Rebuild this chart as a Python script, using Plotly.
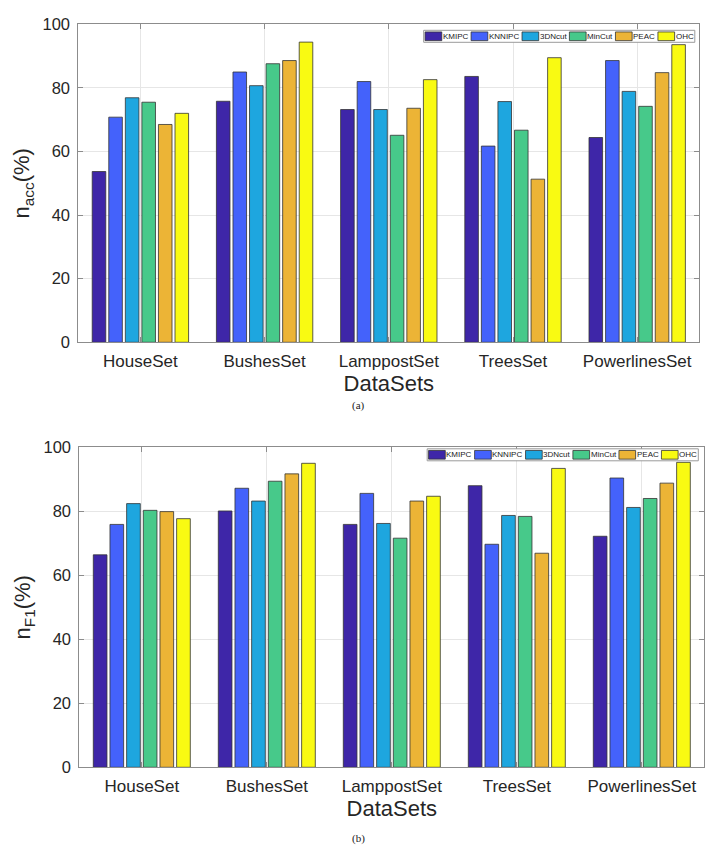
import plotly.graph_objects as go

# ---------------- data ----------------
categories = ["HouseSet", "BushesSet", "LamppostSet", "TreesSet", "PowerlinesSet"]
methods = ["KMIPC", "KNNIPC", "3DNcut", "MinCut", "PEAC", "OHC"]
colors = ["#3E26A8", "#4462FB", "#1EA6DF", "#47C98A", "#ECB436", "#F9FA12"]

acc_kmipc = [53.7, 75.8, 73.2, 83.6, 64.4]
acc_knnipc = [70.8, 85.0, 82.0, 61.7, 88.6]
acc_3dncut = [76.9, 80.7, 73.2, 75.7, 78.9]
acc_mincut = [75.5, 87.6, 65.1, 66.7, 74.2]
acc_peac = [68.5, 88.6, 73.6, 51.3, 84.8]
acc_ohc = [72.0, 94.4, 82.6, 89.5, 93.6]

f1_kmipc = [66.4, 80.1, 75.9, 88.0, 72.2]
f1_knnipc = [75.9, 87.2, 85.6, 69.7, 90.4]
f1_3dncut = [82.4, 83.2, 76.2, 78.7, 81.2]
f1_mincut = [80.3, 89.4, 71.6, 78.4, 84.0]
f1_peac = [79.9, 91.7, 83.2, 66.9, 88.8]
f1_ohc = [77.7, 95.0, 84.7, 93.4, 95.3]

acc_series = [acc_kmipc, acc_knnipc, acc_3dncut, acc_mincut, acc_peac, acc_ohc]
f1_series = [f1_kmipc, f1_knnipc, f1_3dncut, f1_mincut, f1_peac, f1_ohc]

y_ticks = [0, 20, 40, 60, 80, 100]
x_title = "DataSets"
y_titles = ["n<sub>acc</sub>(%)", "n<sub>F1</sub>(%)"]
captions = ["(a)", "(b)"]

# ---------------- layout constants (pixels) ----------------
W, H = 721, 847
FONT = "Liberation Sans, Arial, Helvetica, sans-serif"
TXT = "#262626"
AX = "#8c8c8c"
panels = [
    dict(x0=78.3, x1=699.3, y0=24.3, y1=342.3, leg_dx=4.5, leg_dy=6.0, cap_y=406),
    dict(x0=79.3, x1=704.3, y0=447.3, y1=767.3, leg_dx=6.0, leg_dy=1.5, cap_y=838),
]


def px_x(x):
    return x / W


def px_y(y):
    return 1 - y / H


fig = go.Figure()

for k, series in enumerate([acc_series, f1_series]):
    sfx = "" if k == 0 else str(k + 1)
    for name, col, vals in zip(methods, colors, series):
        fig.add_trace(go.Bar(
            x=categories, y=vals, name=name, marker=dict(color=col, line=dict(color="#333333", width=0.8)),
            xaxis="x" + sfx, yaxis="y" + sfx, showlegend=False,
        ))

layout = dict(
    width=W, height=H, margin=dict(l=0, r=0, t=0, b=0),
    paper_bgcolor="white", plot_bgcolor="white",
    barmode="group", bargap=0.2, bargroupgap=0.18,
    font=dict(family=FONT, color=TXT),
)

shapes, annotations = [], []

# Arial character widths (per 1000 em) for legend layout
CW = {"K": 667, "M": 833, "I": 278, "P": 667, "C": 722, "N": 722, "3": 556, "D": 722,
      "n": 556, "c": 500, "u": 556, "t": 278, "i": 222, "E": 667, "A": 667, "O": 778, "H": 722}
LEG_FS = 8

for k, p in enumerate(panels):
    sfx = "" if k == 0 else str(k + 1)
    common = dict(
        showline=True, linecolor=AX, linewidth=1, mirror="ticks",
        ticks="inside", ticklen=5, tickcolor=AX, tickwidth=1,
        showgrid=True, gridcolor="#e6e6e6", gridwidth=1, zeroline=False,
        automargin=False,
    )
    layout["xaxis" + sfx] = dict(
        common, domain=[px_x(p["x0"]), px_x(p["x1"])], anchor="y" + sfx,
        type="category", range=[-0.5, len(categories) - 0.5],
        tickfont=dict(family=FONT, size=17, color=TXT), ticklabelstandoff=3,
        title=dict(text=x_title, font=dict(family=FONT, size=22, color=TXT), standoff=1),
    )
    layout["yaxis" + sfx] = dict(
        common, domain=[px_y(p["y1"]), px_y(p["y0"])], anchor="x" + sfx,
        range=[0, 100], tickvals=y_ticks, ticklabelstandoff=4,
        tickfont=dict(family=FONT, size=16.5, color=TXT),
        title=dict(text=y_titles[k], font=dict(family=FONT, size=22, color=TXT), standoff=6),
    )

    # legend (MATLAB-style, compact horizontal box)
    sw_w, sw_h, pad, gap_t, gap_e = 16.7, 8.7, 1.4, 1.0, 3.0
    text_w = [sum(CW.get(ch, 556) for ch in m) / 1000 * LEG_FS for m in methods]
    total = pad * 2 + len(methods) * (sw_w + gap_t) + sum(text_w) + (len(methods) - 1) * gap_e
    box_r = p["x1"] - p["leg_dx"]
    box_l = box_r - total
    box_t = p["y0"] + p["leg_dy"]
    box_b = box_t + 12
    shapes.append(dict(type="rect", xref="paper", yref="paper",
                       x0=px_x(box_l), x1=px_x(box_r), y0=px_y(box_b), y1=px_y(box_t),
                       line=dict(color="#9a9a9a", width=1), fillcolor="white", layer="above"))
    cx = box_l + pad
    cy = (box_t + box_b) / 2
    for m, col, tw in zip(methods, colors, text_w):
        shapes.append(dict(type="rect", xref="paper", yref="paper",
                           x0=px_x(cx), x1=px_x(cx + sw_w), y0=px_y(cy + sw_h / 2), y1=px_y(cy - sw_h / 2),
                           line=dict(color="#333333", width=0.8), fillcolor=col, layer="above"))
        annotations.append(dict(text=m, xref="paper", yref="paper", x=px_x(cx + sw_w + gap_t - 1), y=px_y(cy),
                                xanchor="left", yanchor="middle", showarrow=False, borderpad=0,
                                font=dict(family=FONT, size=LEG_FS, color="#1a1a1a")))
        cx += sw_w + gap_t + tw + gap_e

    annotations.append(dict(text=captions[k], xref="paper", yref="paper", x=px_x(358), y=px_y(p["cap_y"]),
                            xanchor="center", yanchor="middle", showarrow=False,
                            font=dict(family="Liberation Serif, Times New Roman, serif", size=11, color="#1a1a1a")))

layout["shapes"] = shapes
layout["annotations"] = annotations
fig.update_layout(**layout)

fig.write_html("out.html")
